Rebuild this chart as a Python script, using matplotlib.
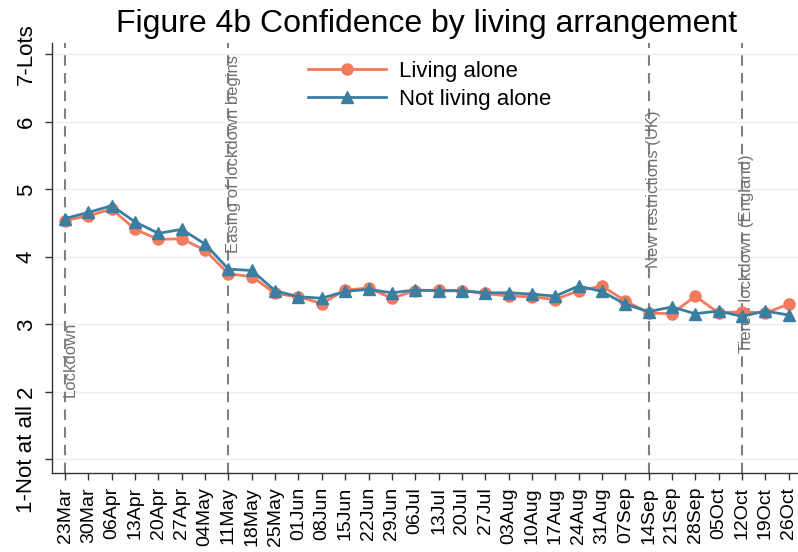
import matplotlib
matplotlib.use("Agg")
import matplotlib.pyplot as plt
import numpy as np

plt.rcParams['font.family'] = ['Liberation Sans', 'DejaVu Sans']

weeks = ["23Mar", "30Mar", "06Apr", "13Apr", "20Apr", "27Apr", "04May", "11May",
         "18May", "25May", "01Jun", "08Jun", "15Jun", "22Jun", "29Jun", "06Jul",
         "13Jul", "20Jul", "27Jul", "03Aug", "10Aug", "17Aug", "24Aug", "31Aug",
         "07Sep", "14Sep", "21Sep", "28Sep", "05Oct", "12Oct", "19Oct", "26Oct"]

living_alone = [4.54, 4.61, 4.71, 4.41, 4.26, 4.27, 4.10, 3.75,
                3.71, 3.46, 3.41, 3.31, 3.51, 3.54, 3.39, 3.50,
                3.51, 3.50, 3.46, 3.42, 3.41, 3.37, 3.50, 3.57,
                3.35, 3.17, 3.16, 3.42, 3.17, 3.19, 3.17, 3.30]

not_alone = [4.57, 4.66, 4.76, 4.52, 4.35, 4.41, 4.19, 3.82,
             3.80, 3.50, 3.41, 3.39, 3.49, 3.52, 3.47, 3.51,
             3.50, 3.50, 3.47, 3.47, 3.45, 3.42, 3.57, 3.49,
             3.30, 3.19, 3.26, 3.16, 3.20, 3.12, 3.20, 3.14]

# events: (week label, text, y where text starts)
events = [("23Mar", "Lockdown", 1.92),
          ("11May", "Easing of lockdown begins", 4.06),
          ("14Sep", "New restrictions (UK)", 3.84),
          ("12Oct", "Tiered lockdown (England)", 2.58)]

yticks = [1, 2, 3, 4, 5, 6, 7]
ytick_labels = ["1-Not at all", "2", "3", "4", "5", "6", "7-Lots"]

orange = '#f27a5d'
blue = '#3a7fa1'

fig = plt.figure(figsize=(7.98, 5.52), dpi=100)
ax = fig.add_axes([52/798, 79/552, 746/798, 430/552])

x = np.arange(len(weeks))

for yv in yticks:
    ax.axhline(yv, color='#e8f0f4', lw=1.0, zorder=0)

for wk, txt, ypos in events:
    xi = weeks.index(wk)
    ax.axvline(xi, color='#808080', lw=1.5, linestyle=(0, (5, 3.5)), zorder=1)
    ax.text(xi + 0.2, ypos, txt, rotation=90, ha='center', va='bottom',
            fontsize=12, color='#707070', zorder=2)

ax.plot(x, living_alone, color=orange, lw=2, marker='o', markersize=8,
        label="Living alone", zorder=3)
ax.plot(x, not_alone, color=blue, lw=2, marker='^', markersize=8,
        label="Not living alone", zorder=4)

ax.set_xlim(-0.56, 31.4)
ax.set_ylim(0.8, 7.17)
ax.set_xticks(x)
ax.set_xticklabels(weeks, rotation=90, fontsize=14)
ax.set_yticks(yticks)
ax.set_yticklabels(ytick_labels, rotation=90, va='center', fontsize=16)
ax.tick_params(axis='both', direction='out', length=5, width=1, color='#333333')
ax.tick_params(axis='y', pad=6)
ax.tick_params(axis='x', pad=5)

for side in ['top', 'right']:
    ax.spines[side].set_visible(False)
for side in ['left', 'bottom']:
    ax.spines[side].set_color('#333333')
    ax.spines[side].set_linewidth(1)

ax.legend(loc='upper left', bbox_to_anchor=(308/798, 1 - 61/552),
          bbox_transform=fig.transFigure, frameon=False, fontsize=16,
          handlelength=3.5, handletextpad=0.6, labelspacing=0.3,
          borderpad=0, borderaxespad=0)

fig.text(427/798, 1 - 32/552, "Figure 4b Confidence by living arrangement",
         ha='center', va='baseline', fontsize=23)

fig.savefig("out.png", dpi=100)
